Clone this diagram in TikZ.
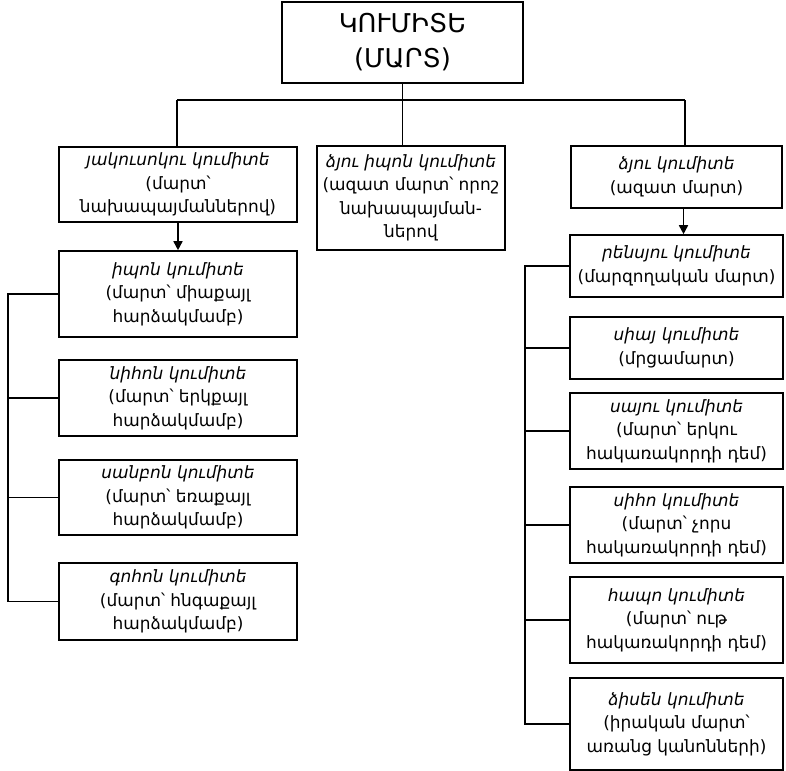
\documentclass[tikz,border=0pt]{standalone}
\usepackage{fontspec}
\setmainfont{DejaVu Sans}
\usetikzlibrary{arrows.meta}

\tikzset{
  box/.style={draw, line width=1.6bp, align=center, inner sep=2bp,
    font=\fontsize{17}{23.5}\selectfont},
  link/.style={line width=1.6bp},
  arr/.style={link, -{Triangle[length=9bp,width=9bp]}}
}

\begin{document}
\begin{tikzpicture}[x=1bp,y=-1bp]
  \useasboundingbox (0,0) rectangle (786,771);

  % top
  \node[box, minimum width=241bp, minimum height=81bp,
    font=\fontsize{26}{35}\selectfont] (kumite) at (402.5,42.5) {ԿՈՒՄԻՏԵ\\(ՄԱՐՏ)};

  % first level
  \node[box, minimum width=238bp, minimum height=75bp] (yaku) at (178,184.5)
    {\textit{յակուսոկու կումիտե}\\(մարտ՝\\նախապայմաններով)};
  \node[box, minimum width=188bp, minimum height=104bp] (jiyuip) at (411,198)
    {\textit{ձյու իպոն կումիտե}\\(ազատ մարտ՝ որոշ\\նախապայման-\\ներով};
  \node[box, minimum width=211bp, minimum height=62bp] (jiyu) at (676.5,177)
    {\textit{ձյու կումիտե}\\(ազատ մարտ)};

  % left column
  \node[box, minimum width=238bp, minimum height=86bp] (ippon) at (178,294)
    {\textit{իպոն կումիտե}\\(մարտ՝ միաքայլ\\հարձակմամբ)};
  \node[box, minimum width=238bp, minimum height=76bp] (nihon) at (178,398)
    {\textit{նիհոն կումիտե}\\(մարտ՝ երկքայլ\\հարձակմամբ)};
  \node[box, minimum width=238bp, minimum height=75bp] (sanbon) at (178,497.5)
    {\textit{սանբոն կումիտե}\\(մարտ՝ եռաքայլ\\հարձակմամբ)};
  \node[box, minimum width=238bp, minimum height=77bp] (gohon) at (178,601.5)
    {\textit{գոհոն կումիտե}\\(մարտ՝ հնգաքայլ\\հարձակմամբ)};

  % right column
  \node[box, minimum width=213bp, minimum height=62bp] (renshu) at (676.5,266)
    {\textit{րենսյու կումիտե}\\(մարզողական մարտ)};
  \node[box, minimum width=213bp, minimum height=62bp] (shiai) at (676.5,348)
    {\textit{սիայ կումիտե}\\(մրցամարտ)};
  \node[box, minimum width=213bp, minimum height=76bp] (sayu) at (676.5,431)
    {\textit{սայու կումիտե}\\(մարտ՝ երկու\\հակառակորդի դեմ)};
  \node[box, minimum width=213bp, minimum height=76bp] (shiho) at (676.5,525)
    {\textit{սիհո կումիտե}\\(մարտ՝ չորս\\հակառակորդի դեմ)};
  \node[box, minimum width=213bp, minimum height=86bp] (happo) at (676.5,620)
    {\textit{հապո կումիտե}\\(մարտ՝ ութ\\հակառակորդի դեմ)};
  \node[box, minimum width=213bp, minimum height=92bp] (jissen) at (676.5,724)
    {\textit{ձիսեն կումիտե}\\(իրական մարտ՝\\առանց կանոնների)};

  % connectors
  \coordinate (barL) at (177,100);
  \coordinate (barR) at (685,100);
  \coordinate (lbar) at (8,0);
  \coordinate (rbar) at (525,0);

  \draw[link] (kumite.south) -- (kumite.south |- barL);
  \draw[link] (barL) -- (barR);
  \draw[link] (barL) -- (barL |- yaku.north);
  \draw[link] (jiyuip.north -| kumite.south) -- (kumite.south |- barL);
  \draw[link] (barR) -- (barR |- jiyu.north);

  \draw[arr] (yaku.south) -- (ippon.north);
  \draw[arr] ([xshift=7bp]jiyu.south) -- ([xshift=7bp]renshu.north);

  \draw[link] (ippon.west) -- (ippon.west -| lbar) -- (gohon.west -| lbar) -- (gohon.west);
  \foreach \n in {nihon,sanbon}
    \draw[link] (\n.west) -- (\n.west -| lbar);

  \draw[link] (renshu.west) -- (renshu.west -| rbar) -- (jissen.west -| rbar) -- (jissen.west);
  \foreach \n in {shiai,sayu,shiho,happo}
    \draw[link] (\n.west) -- (\n.west -| rbar);
\end{tikzpicture}
\end{document}
